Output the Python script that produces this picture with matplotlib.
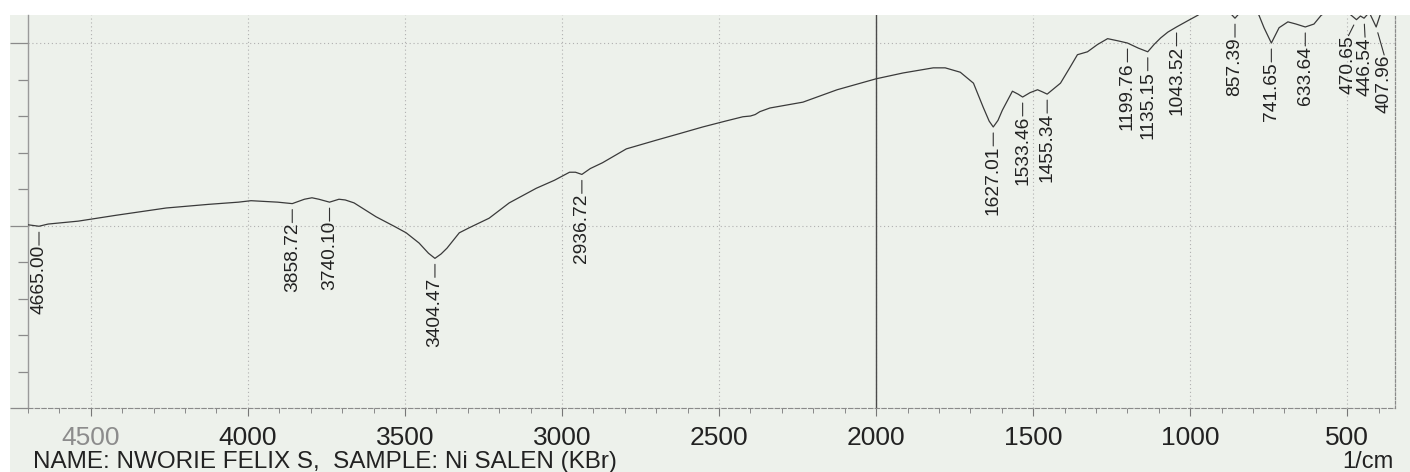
import matplotlib
matplotlib.use("Agg")
import matplotlib.pyplot as plt
import numpy as np
from matplotlib.patches import Rectangle
from matplotlib.ticker import MultipleLocator

plt.rcParams["font.family"] = ["Liberation Sans", "DejaVu Sans"]

# IR trace, wavenumber (1/cm) against transmittance (arbitrary %T scale)
wavenumber = [
    4700, 4665.00, 4636, 4540, 4420, 4260, 4125, 4030, 3990, 3905,
    3858.72, 3820, 3796, 3774, 3740.10, 3710, 3690, 3662, 3592, 3530,
    3496, 3455, 3425, 3404.47, 3385, 3366, 3327, 3295, 3232, 3168,
    3082, 3024, 2976, 2957, 2936.72, 2910, 2871, 2795, 2699, 2625,
    2552, 2480, 2424, 2400, 2385, 2370, 2338, 2233, 2124, 2000,
    1914, 1818, 1780, 1732, 1690, 1659, 1640, 1627.01, 1612, 1598,
    1566, 1548, 1533.46, 1510, 1486, 1470, 1455.34, 1413, 1385, 1359,
    1327, 1295, 1263, 1230, 1199.76, 1165, 1135.15, 1115, 1094, 1071,
    1043.52, 1010, 976, 918, 877, 857.39, 839, 807, 781, 765,
    741.65, 717, 689, 663, 633.64, 606, 583, 540, 490, 470.65,
    458, 446.54, 430, 407.96, 395, 380, 348,
]
transmittance = [
    25.1, 24.9, 25.2, 25.6, 26.4, 27.4, 27.9, 28.2, 28.4, 28.2,
    28.0, 28.6, 28.8, 28.6, 28.2, 28.6, 28.5, 28.1, 26.2, 24.8,
    24.0, 22.6, 21.2, 20.5, 21.1, 21.9, 24.0, 24.7, 26.0, 28.1,
    30.1, 31.2, 32.3, 32.3, 32.0, 32.8, 33.6, 35.5, 36.7, 37.6,
    38.5, 39.3, 39.9, 40.0, 40.2, 40.6, 41.1, 41.9, 43.6, 45.1,
    45.9, 46.6, 46.6, 46.0, 44.5, 41.2, 39.3, 38.5, 39.4, 40.8,
    43.4, 43.0, 42.6, 43.2, 43.6, 43.3, 43.0, 44.5, 46.5, 48.4,
    48.8, 49.8, 50.6, 50.3, 50.0, 49.3, 48.8, 49.8, 50.7, 51.5,
    52.2, 53.0, 53.8, 55.6, 54.3, 53.4, 54.3, 55.6, 53.8, 52.1,
    50.0, 52.1, 52.9, 52.6, 52.2, 52.6, 53.8, 55.0, 53.9, 53.2,
    53.7, 53.4, 54.2, 52.2, 53.9, 55.0, 55.5,
]

peak_wavenumbers = [
    4665.00, 3858.72, 3740.10, 3404.47, 2936.72, 1627.01, 1533.46,
    1455.34, 1199.76, 1135.15, 1043.52, 857.39, 741.65, 633.64,
    470.65, 446.54, 407.96,
]

x_ticks = [4500, 4000, 3500, 3000, 2500, 2000, 1500, 1000, 500]
x_tick_labels = [str(t) for t in x_ticks]
y_major_ticks = [0, 25, 50]

sample_caption = "NAME: NWORIE FELIX S,  SAMPLE: Ni SALEN (KBr)"
unit_label = "1/cm"

# where each label's top sits relative to its peak (pixels); the crowded
# ones at the far end are pushed aside and joined back with a slanted leader
DEFAULT_OFFSET = (0, -19)
LABEL_NUDGE = {470.65: (-8, -16), 446.54: (1, -19), 407.96: (8, -28)}

W, H = 1410, 472
PAPER = "#edf1eb"
INK = "#222222"

fig = plt.figure(figsize=(W / 100, H / 100), dpi=100, facecolor="white")
fig.patches.append(Rectangle((10 / W, 0), 1 - 10 / W, (H - 15) / H,
                             transform=fig.transFigure, facecolor=PAPER,
                             edgecolor="none", zorder=-10))

ax = fig.add_axes([28 / W, (H - 408) / H, (1395 - 28) / W, (408 - 15) / H])
ax.set_facecolor("none")

ax.plot(wavenumber, transmittance, color="#3a3a3a", lw=0.9, zorder=3)

ax.set_xlim(4700, 348)
ax.set_ylim(0, 53.84)

# axes frame: solid left, dashed bottom, dotted right, open top
ax.spines["top"].set_visible(False)
ax.spines["left"].set_color("#9a9a9a")
ax.spines["left"].set_linewidth(1.0)
ax.spines["bottom"].set_color("#8a8a8a")
ax.spines["bottom"].set_linewidth(0.8)
ax.spines["bottom"].set_linestyle((0, (4, 2)))
ax.spines["right"].set_color("#8a8a8a")
ax.spines["right"].set_linewidth(0.9)
ax.spines["right"].set_linestyle((0, (2, 1.5)))

ax.set_xticks(x_ticks, labels=x_tick_labels)
ax.xaxis.set_minor_locator(MultipleLocator(100))
ax.tick_params(axis="x", which="major", direction="out", length=6, width=0.8,
               color="#777777", pad=7, labelsize=19, labelcolor=INK)
ax.tick_params(axis="x", which="minor", direction="out", length=3.5,
               width=0.7, color="#888888")
for lbl in ax.get_xticklabels():
    if lbl.get_text() == "4500":
        lbl.set_color("#8c8c8c")

ax.set_yticks(y_major_ticks)
ax.yaxis.set_minor_locator(MultipleLocator(5))
ax.tick_params(axis="y", which="major", direction="out", length=13, width=0.9,
               color="#8a8a8a", labelleft=False)
ax.tick_params(axis="y", which="minor", direction="out", length=7, width=0.9,
               color="#8a8a8a")

ax.grid(which="major", linestyle=(0, (1, 2.5)), color="#b0b0b0", lw=0.8)
ax.axvline(2000, color="#4a4a4a", lw=1.0, zorder=2)

# peak labels hang under the trace, joined to it by a short leader
wn_asc = np.array(wavenumber[::-1])
t_asc = np.array(transmittance[::-1])
for peak in peak_wavenumbers:
    y = float(np.interp(peak, wn_asc, t_asc))
    ax.annotate(f"{peak:.2f}", xy=(peak, y),
                xytext=LABEL_NUDGE.get(peak, DEFAULT_OFFSET),
                textcoords="offset pixels", rotation=90, ha="center",
                va="top", fontsize=13.8, color=INK, zorder=4,
                arrowprops=dict(arrowstyle="-", color="#333333", lw=0.8,
                                patchA=None, shrinkA=0, shrinkB=4.3,
                                relpos=(0.5, 1.0)))

fig.text(33 / W, (H - 468) / H, sample_caption, fontsize=17.5, color=INK,
         ha="left", va="baseline")
fig.text(1393 / W, (H - 468) / H, unit_label, fontsize=17, color=INK,
         ha="right", va="baseline")

fig.savefig("out.png", dpi=100, facecolor=fig.get_facecolor())
